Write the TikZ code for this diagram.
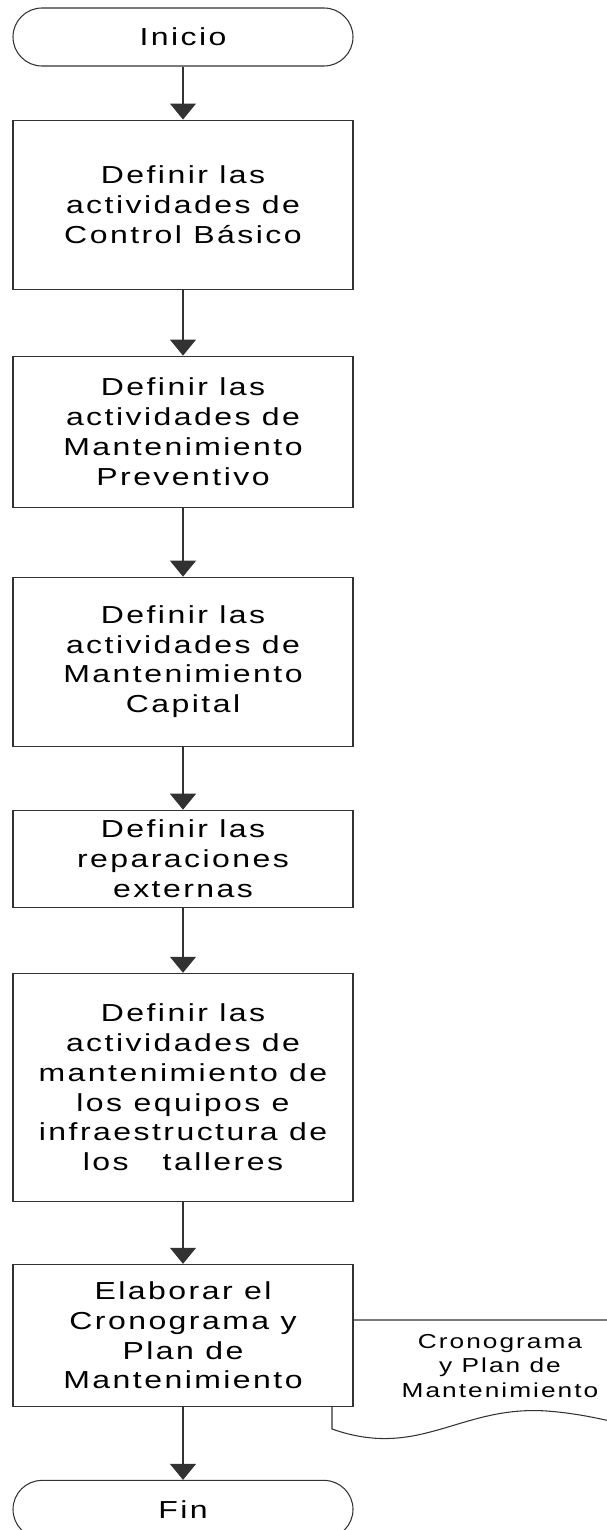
\documentclass[tikz,border=0pt]{standalone}
\usepackage{fontspec}
\setmainfont[FakeStretch=1.3,LetterSpace=10]{Liberation Sans}
\usetikzlibrary{arrows.meta, positioning, backgrounds}
\definecolor{charcoal}{RGB}{50, 50, 50}

\begin{document}
\begin{tikzpicture}[
            box/.style={draw=charcoal, fill=white, line width=0.6pt, minimum width=6.8cm, inner sep=0pt, align=center, font=\fontsize{14}{17}\selectfont},
            term/.style={box, rounded corners=0.58cm, minimum height=1.16cm},
            arrow/.style={-{Triangle[width=0.52cm, length=0.32cm]}, line width=0.6pt, charcoal},
            doc/.style={draw=charcoal, fill=white, line width=0.6pt}
        ]
            \useasboundingbox (0,0) rectangle (12.12,-30.6);
            \node[term] (inicio) at (3.66,-0.74) {Inicio};
            \node[box, minimum height=3.38cm, below=1.06cm of inicio] (basico) {Definir las\\actividades de\\Control Básico};
            \node[box, minimum height=3.02cm, below=1.32cm of basico] (preventivo) {Definir las\\actividades de\\Mantenimiento\\Preventivo};
            \node[box, minimum height=3.38cm, below=1.38cm of preventivo] (capital) {Definir las\\actividades de\\Mantenimiento\\Capital};
            \node[box, minimum height=1.94cm, below=1.26cm of capital] (externas) {Definir las\\reparaciones\\externas};
            \node[box, minimum height=4.56cm, below=1.30cm of externas] (talleres) {Definir las\\actividades de\\mantenimiento de\\los equipos e\\infraestructura de\\los \ \ talleres};
            \node[box, minimum height=2.84cm, below=1.24cm of talleres] (cronograma) {Elaborar el\\Cronograma y\\Plan de\\Mantenimiento};
            \node[term, below=1.46cm of cronograma] (fin) {Fin};

            % documento de salida
            \begin{scope}[on background layer]
                \coordinate (docNW) at (6.64,-26.4);
                \coordinate (docSW) at (6.64,-28.58);
                \draw[doc] (docSW) -- (docNW) -- (13.8,-26.4) -- (13.8,-28.8)
                    .. controls (12.8,-28.6) and (12,-28.3) .. (10.94,-28.22)
                    .. controls (9.2,-28.1) and (8.4,-29.2) .. (docSW) -- cycle;
            \end{scope}
            \node[align=center, font=\fontsize{11.5}{14.2}\selectfont] (salida) at (10.0,-27.32) {Cronograma\\y Plan de\\Mantenimiento};

            \draw[arrow] (inicio) -- (basico);
            \draw[arrow] (basico) -- (preventivo);
            \draw[arrow] (preventivo) -- (capital);
            \draw[arrow] (capital) -- (externas);
            \draw[arrow] (externas) -- (talleres);
            \draw[arrow] (talleres) -- (cronograma);
            \draw[arrow] (cronograma) -- (fin);
        \end{tikzpicture}
\end{document}
